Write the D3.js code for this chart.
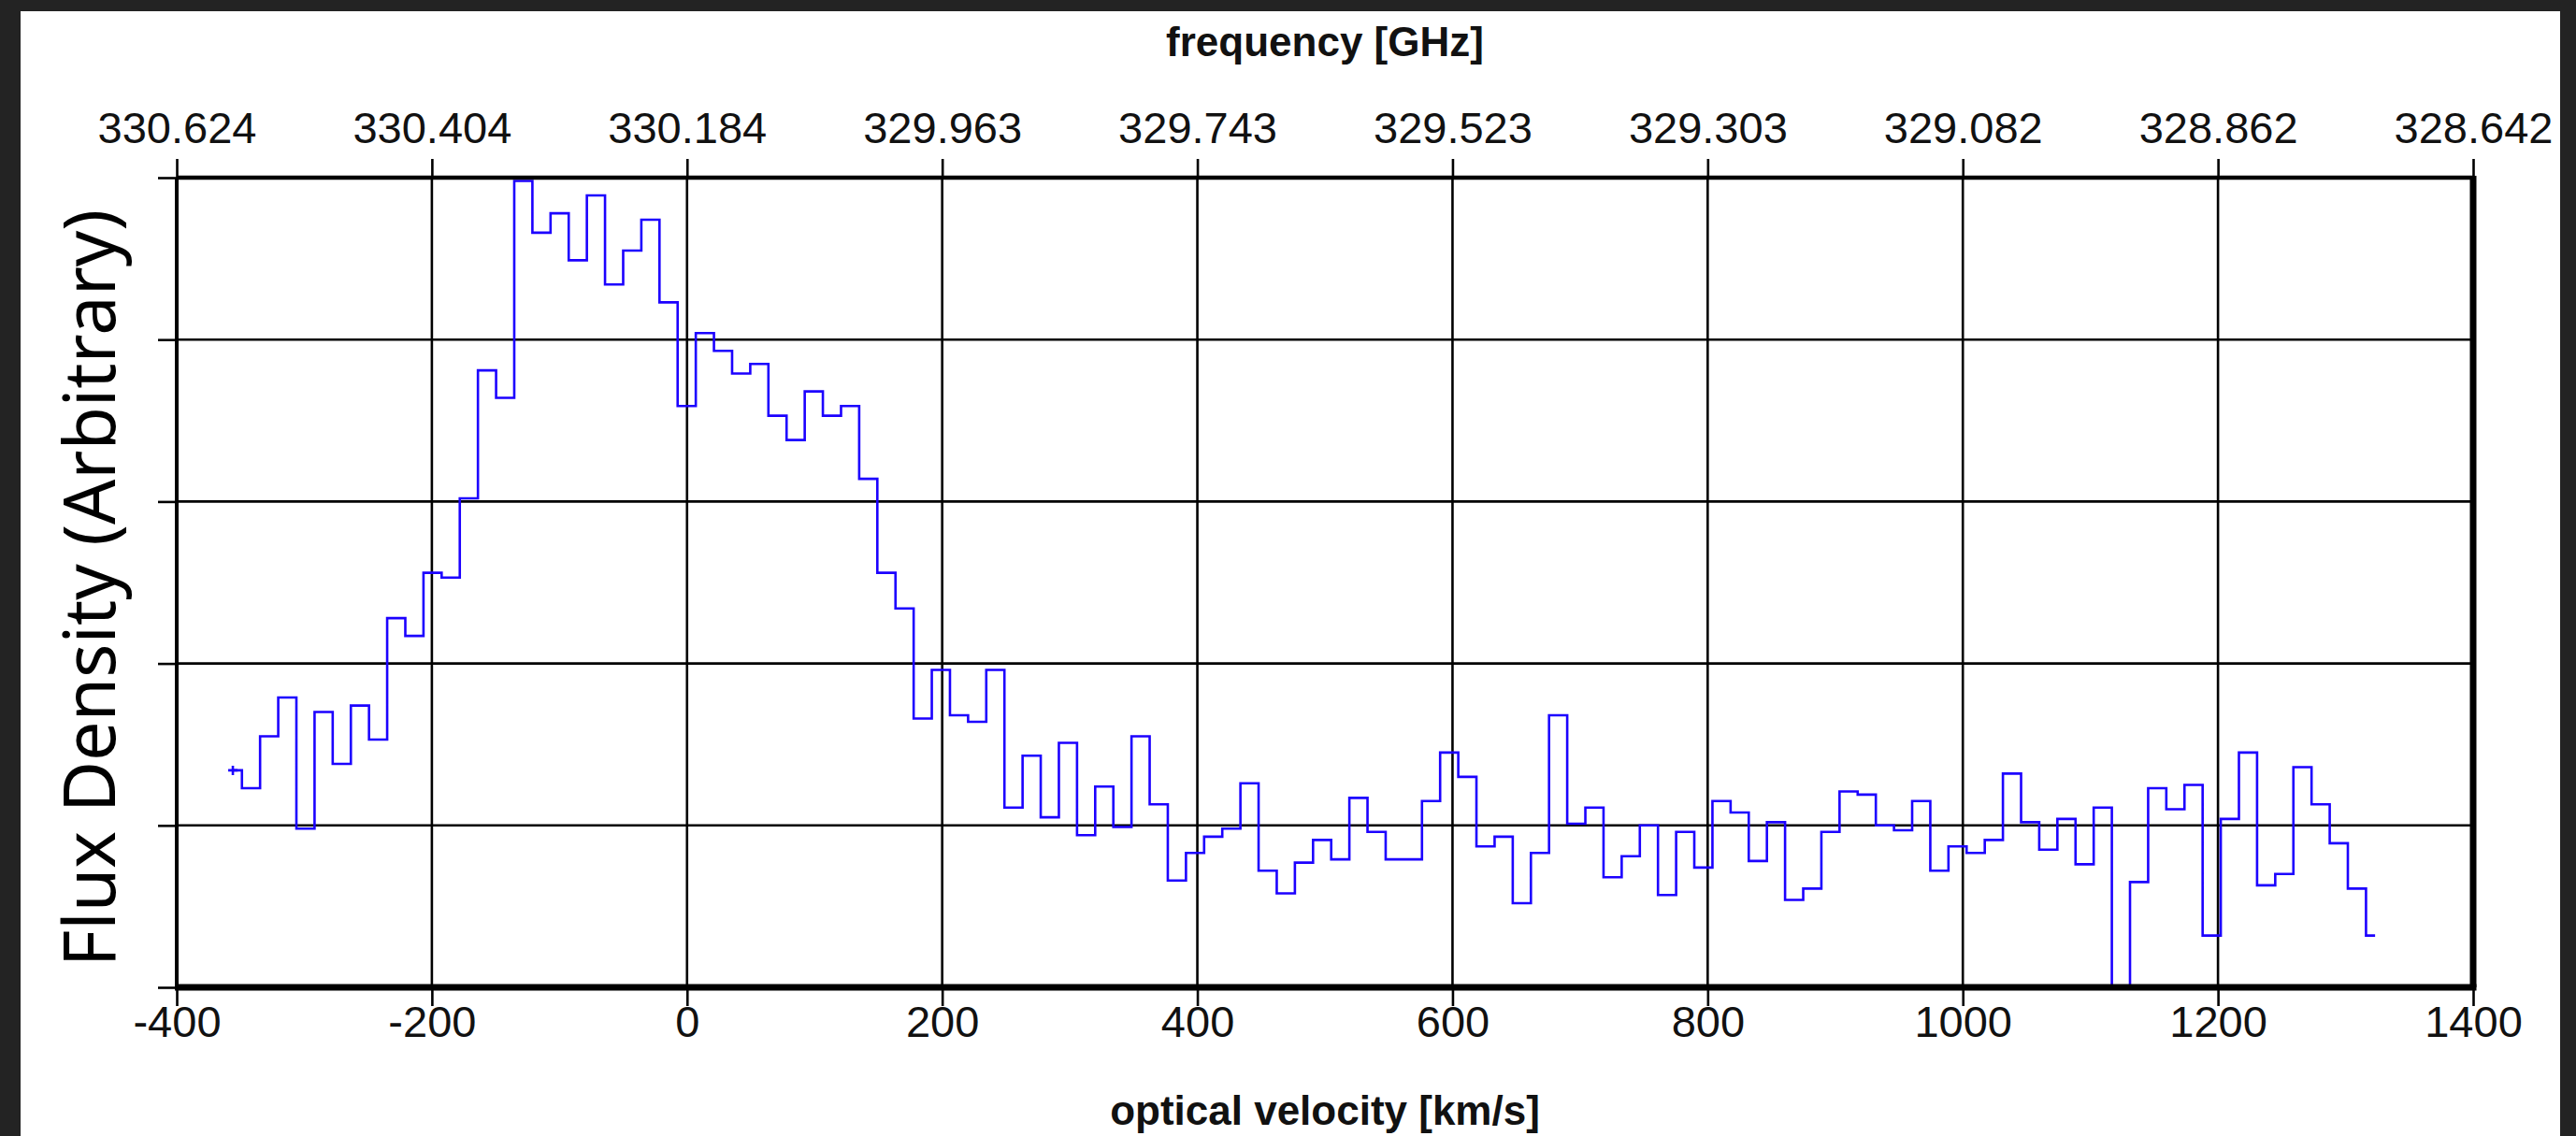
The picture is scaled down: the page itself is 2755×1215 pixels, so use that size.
<!DOCTYPE html>
<html>
<head>
<meta charset="utf-8">
<script src="https://cdnjs.cloudflare.com/ajax/libs/d3/7.8.5/d3.min.js"></script>
<style>
  html, body { margin: 0; padding: 0; background: #232323; }
  svg { display: block; }
  .tick text { font-family: 'Liberation Sans', Arial, sans-serif; font-size: 47px; fill: #111; }
  .axis-title { font-family: 'Liberation Sans', Arial, sans-serif; font-size: 44px; font-weight: bold; fill: #111; }
</style>
</head>
<body>
<svg></svg>
<script>
// spectrum, channels of ~14.23 km/s starting at -356 km/s
var channelStart = -356;
var channelWidth = 14.23;

var flux = [
  0.34, 0.23, 0.55, 0.79, -0.02, 0.70, 0.38, 0.74, 0.53, 1.28,
  1.17, 1.56, 1.53, 2.02, 2.81, 2.64, 3.98, 3.66, 3.78, 3.49,
  3.89, 3.34, 3.55, 3.74, 3.23, 2.59, 3.04, 2.93, 2.79, 2.85,
  2.53, 2.38, 2.68, 2.53, 2.59, 2.14, 1.56, 1.34, 0.66, 0.96,
  0.68, 0.64, 0.96, 0.11, 0.43, 0.05, 0.51, -0.06, 0.24, -0.01,
  0.55, 0.13, -0.34, -0.17, -0.07, -0.02, 0.26, -0.28, -0.42, -0.23,
  -0.09, -0.21, 0.17, -0.04, -0.21, -0.21, 0.15, 0.45, 0.30, -0.13,
  -0.07, -0.48, -0.17, 0.68, 0.01, 0.11, -0.32, -0.19, 0.00, -0.43,
  -0.04, -0.26, 0.15, 0.08, -0.22, 0.02, -0.46, -0.39, -0.04, 0.21,
  0.19, 0.00, -0.03, 0.15, -0.28, -0.13, -0.17, -0.09, 0.32, 0.02,
  -0.15, 0.04, -0.24, 0.11, -1.30, -0.35, 0.23, 0.10, 0.25, -0.68,
  0.04, 0.45, -0.37, -0.30, 0.36, 0.13, -0.11, -0.39, -0.68
];

var velocityTicks = [-400, -200, 0, 200, 400, 600, 800, 1000, 1200, 1400];
var frequencyLabels = ['330.624', '330.404', '330.184', '329.963', '329.743',
  '329.523', '329.303', '329.082', '328.862', '328.642'];
var fluxTicks = [-1, 0, 1, 2, 3, 4];

var margin = { top: 190, right: 110, bottom: 159, left: 189 };
var fullWidth = 2755, fullHeight = 1215;
var width = fullWidth - margin.left - margin.right,
    height = fullHeight - margin.top - margin.bottom;

var svg = d3.select('svg')
    .attr('width', fullWidth)
    .attr('height', fullHeight);

// dark frame + white panel
svg.append('rect')
    .attr('width', fullWidth).attr('height', fullHeight)
    .attr('fill', '#232323');
svg.append('rect')
    .attr('x', 22).attr('y', 12)
    .attr('width', 2716).attr('height', fullHeight - 12)
    .attr('fill', '#ffffff');

var g = svg.append('g')
    .attr('transform', 'translate(' + margin.left + ',' + margin.top + ')');

var x = d3.scaleLinear().domain([-400, 1400]).range([0, width]);
var y = d3.scaleLinear().domain([-1, 4]).range([height, 0]);

// grid
g.append('g').attr('class', 'grid')
  .selectAll('line.v')
  .data(velocityTicks)
  .enter().append('line')
    .attr('x1', function(d) { return x(d); })
    .attr('x2', function(d) { return x(d); })
    .attr('y1', 0).attr('y2', height)
    .attr('stroke', '#000').attr('stroke-width', 2.6);

g.append('g').attr('class', 'grid')
  .selectAll('line.h')
  .data(fluxTicks)
  .enter().append('line')
    .attr('x1', 0).attr('x2', width)
    .attr('y1', function(d) { return y(d); })
    .attr('y2', function(d) { return y(d); })
    .attr('stroke', '#000').attr('stroke-width', 2.6);

// spectrum
g.append('clipPath').attr('id', 'plot-clip')
  .append('rect').attr('width', width).attr('height', height);

var data = flux.map(function(f, i) {
  return { v: channelStart + i * channelWidth, f: f };
});

var line = d3.line()
    .x(function(d) { return x(d.v); })
    .y(function(d) { return y(d.f); })
    .curve(d3.curveStep);

g.append('path')
    .datum(data)
    .attr('clip-path', 'url(#plot-clip)')
    .attr('fill', 'none')
    .attr('stroke', '#1c00ff')
    .attr('stroke-width', 2.6)
    .attr('d', line);

// small plus marker at first channel
var first = data[0];
g.append('path')
    .attr('d', 'M' + (x(first.v) - 5) + ',' + y(first.f) + 'h10M' + x(first.v) + ',' + (y(first.f) - 5) + 'v10')
    .attr('stroke', '#1c00ff')
    .attr('stroke-width', 2.6);

// axes
var xAxisBottom = d3.axisBottom(x).tickValues(velocityTicks)
    .tickFormat(function(d) { return String(d); })
    .tickSize(20).tickSizeOuter(0).tickPadding(0);
var xAxisTop = d3.axisTop(x).tickValues(velocityTicks)
    .tickFormat(function(d, i) { return frequencyLabels[i]; })
    .tickSize(20).tickSizeOuter(0).tickPadding(17);
var yAxisLeft = d3.axisLeft(y).tickValues(fluxTicks)
    .tickFormat('').tickSize(20).tickSizeOuter(0);

g.append('g')
    .attr('class', 'x axis bottom')
    .attr('transform', 'translate(0,' + height + ')')
    .call(xAxisBottom);

g.append('g')
    .attr('class', 'x axis top')
    .call(xAxisTop);

g.append('g')
    .attr('class', 'y axis left')
    .call(yAxisLeft);

g.selectAll('.axis .domain').remove();
g.selectAll('.axis .tick line').attr('stroke', '#000').attr('stroke-width', 2.6);
g.selectAll('.axis.top .tick text').attr('dy', '0em');

// frame lines, bottom and right heavier
g.append('line').attr('x1', 0).attr('x2', width).attr('y1', 0).attr('y2', 0)
    .attr('stroke', '#000').attr('stroke-width', 4.5);
g.append('line').attr('x1', 0).attr('x2', 0).attr('y1', 0).attr('y2', height)
    .attr('stroke', '#000').attr('stroke-width', 4);
g.append('line').attr('x1', -2).attr('x2', width + 3.5).attr('y1', height).attr('y2', height)
    .attr('stroke', '#000').attr('stroke-width', 7);
g.append('line').attr('x1', width).attr('x2', width).attr('y1', -2).attr('y2', height)
    .attr('stroke', '#000').attr('stroke-width', 7);

// titles
svg.append('text')
    .attr('class', 'axis-title')
    .attr('x', margin.left + width / 2)
    .attr('y', 60)
    .attr('text-anchor', 'middle')
    .text('frequency [GHz]');

svg.append('text')
    .attr('class', 'axis-title')
    .attr('x', margin.left + width / 2)
    .attr('y', 1203)
    .attr('text-anchor', 'middle')
    .text('optical velocity [km/s]');

svg.append('text')
    .attr('transform', 'translate(123,629) rotate(-90)')
    .attr('text-anchor', 'middle')
    .attr('textLength', 810)
    .attr('lengthAdjust', 'spacingAndGlyphs')
    .style('font-family', "'Noto Sans', sans-serif")
    .style('font-size', '76px')
    .style('fill', '#000')
    .text('Flux Density (Arbitrary)');
</script>
</body>
</html>
